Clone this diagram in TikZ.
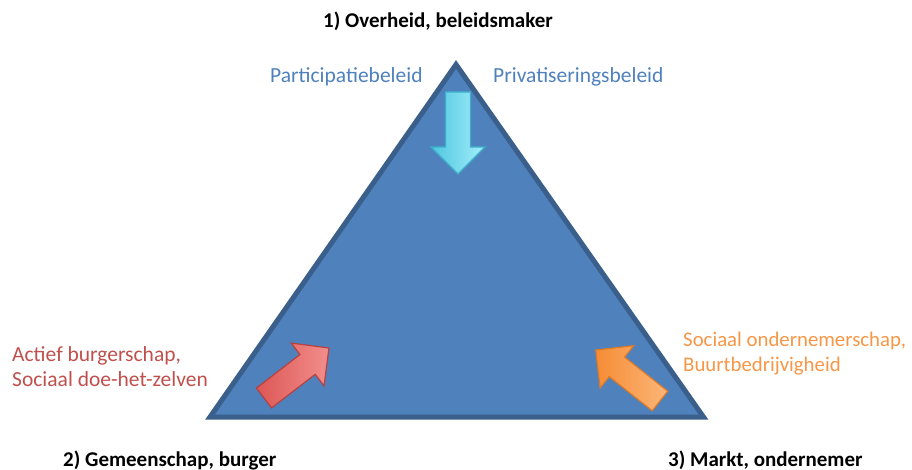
\documentclass[tikz,border=0pt]{standalone}
\usepackage{fontspec}
\setmainfont{Carlito}
\usetikzlibrary{shadows}
\definecolor{trifill}{HTML}{4F81BD}
\definecolor{triline}{HTML}{3A5F8B}
\definecolor{txtblue}{HTML}{4F81BD}
\definecolor{txtred}{HTML}{C0504D}
\definecolor{txtorange}{HTML}{F79646}
\definecolor{cyanA}{HTML}{4EC6E0}
\definecolor{cyanB}{HTML}{A4EEFB}
\definecolor{cyanL}{HTML}{3DAFC9}
\definecolor{redA}{HTML}{DC5755}
\definecolor{redB}{HTML}{F28E8C}
\definecolor{redL}{HTML}{B54240}
\definecolor{orA}{HTML}{F68C35}
\definecolor{orB}{HTML}{FCB678}
\definecolor{orL}{HTML}{D97B2A}
\tikzset{
  fatarrow/.pic={
    \path[pic actions] (0,-12.5) -- (55,-12.5) -- (55,-27) -- (82,0) -- (55,27) -- (55,12.5) -- (0,12.5) -- cycle;
  },
  arrowstyle/.style={line width=1.2pt, line join=miter, drop shadow={shadow xshift=1.5pt, shadow yshift=-1.5pt, opacity=0.25}},
  corner/.style={font=\fontsize{21}{25}\selectfont\bfseries, text=black, inner sep=0pt, anchor=base west},
  lbl/.style={font=\fontsize{21.5}{25}\selectfont, inner sep=0pt, anchor=base west},
  lblsmall/.style={font=\fontsize{20.8}{25}\selectfont, inner sep=0pt, anchor=base west}
}
\begin{document}
\begin{tikzpicture}[x=1pt,y=-1pt]
\useasboundingbox (0,0) rectangle (912,470);
\coordinate (apex) at (456,64.5);
\coordinate (bl) at (210,417);
\coordinate (br) at (703.5,417);
\draw[line width=5pt, draw=triline, fill=trifill, line join=miter] (apex) -- (bl) -- (br) -- cycle;

% arrows
\coordinate (downtail) at (458,92);
\coordinate (redtail) at (264,398);
\coordinate (ortail) at (660,401);
\pic[arrowstyle, draw=cyanL, left color=cyanA, right color=cyanB, rotate=-90] (downarrow) at (downtail) {fatarrow};
\pic[arrowstyle, draw=redL, left color=redA, right color=redB, rotate=37.6] (redarrow) at (redtail) {fatarrow};
\pic[arrowstyle, draw=orL, left color=orA, right color=orB, rotate=141.6] (orarrow) at (ortail) {fatarrow};

% corner labels
\node[corner] (gov) at (323,28) {1) Overheid, beleidsmaker};
\node[corner] (com) at (63,466) {2) Gemeenschap, burger};
\node[corner] (mkt) at (668,466) {3) Markt, ondernemer};

% colored labels
\node[lbl, text=txtblue] (part) at (270,83) {Participatiebeleid};
\node[lbl, text=txtblue] (priv) at (493,83) {Privatiseringsbeleid};
\node[lbl, text=txtred] (act1) at (12,361) {Actief burgerschap,};
\node[lbl, text=txtred] (act2) at (12,386) {Sociaal doe-het-zelven};
\node[lblsmall, text=txtorange] (soc1) at (683,346) {Sociaal ondernemerschap,};
\node[lblsmall, text=txtorange] (soc2) at (683,371) {Buurtbedrijvigheid};
\end{tikzpicture}
\end{document}
